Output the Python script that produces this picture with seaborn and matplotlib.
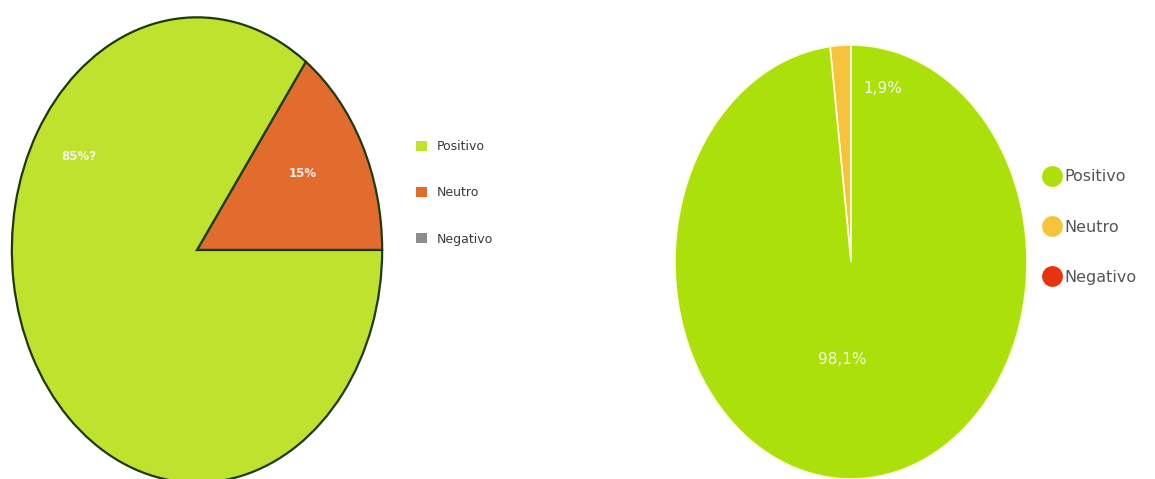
import matplotlib
matplotlib.use("Agg")
import matplotlib.pyplot as plt
import seaborn as sns
from matplotlib.patches import Patch
from matplotlib.lines import Line2D

sns.set_theme(style="white")
plt.rcParams['font.family'] = ['DejaVu Sans']

categories = ["Positivo", "Neutro", "Negativo"]
left_values = [85, 15, 0]
left_labels = ["85%?", "15%", ""]
right_values = [98.1, 1.9, 0]
right_labels = ["98,1%", "1,9%", ""]

left_colors = ["#bfe22e", "#e26c2e", "#8c8c8c"]
right_colors = ["#abe00a", "#f8c33c", "#e8330f"]

W, H = 1155, 479
fig = plt.figure(figsize=(W / 100, H / 100), dpi=100)
fig.patch.set_facecolor("white")

def axes_px(x0, y0, x1, y1):
    return fig.add_axes([x0 / W, 1 - y1 / H, (x1 - x0) / W, (y1 - y0) / H])

# ---- left pie (elliptical, dark outline) ----
axL = axes_px(10, 15, 384, 485)
vals = [left_values[1], left_values[0]]
cols = [left_colors[1], left_colors[0]]
axL.pie(vals, colors=cols, startangle=0, counterclock=True,
        wedgeprops=dict(edgecolor="#1d3a0c", linewidth=1.6))
axL.set_aspect("auto")
axL.set_xlim(-1.01, 1.01)
axL.set_ylim(-1.01, 1.01)
axL.axis("off")
axL.text(-0.64, 0.40, left_labels[0], color="#f4f4e8", fontsize=8.5,
         fontweight="bold", ha="center", va="center")
axL.text(0.57, 0.33, left_labels[1], color="#f4f0e8", fontsize=8.5,
         fontweight="bold", ha="center", va="center")

hL = [Patch(facecolor=c, edgecolor="none") for c in left_colors]
fig.legend(hL, categories, loc="center left",
           bbox_to_anchor=(405 / W, 1 - 193 / H), frameon=False,
           fontsize=9, handlelength=0.85, handleheight=0.85,
           handletextpad=0.8, labelspacing=2.65, labelcolor="#3a3a3a")

# ---- right pie (elliptical, white separator) ----
axR = axes_px(675, 45, 1027, 479)
vals = [right_values[1], right_values[0]]
cols = [right_colors[1], right_colors[0]]
axR.pie(vals, colors=cols, startangle=90, counterclock=True,
        wedgeprops=dict(edgecolor="#fffbe0", linewidth=1.2))
axR.set_aspect("auto")
axR.set_xlim(-1.0, 1.0)
axR.set_ylim(-1.0, 1.0)
axR.axis("off")
axR.text(0.18, 0.80, right_labels[1], color="#f4f8e4", fontsize=11,
         ha="center", va="center")
axR.text(-0.05, -0.45, right_labels[0], color="#f4f8e4", fontsize=11,
         ha="center", va="center")

hR = [Line2D([0], [0], marker="o", linestyle="none", markersize=15,
             markerfacecolor=c, markeredgecolor="none") for c in right_colors]
fig.legend(hR, categories, loc="center left",
           bbox_to_anchor=(1033 / W, 1 - 227 / H), frameon=False,
           fontsize=11.5, handlelength=1.0, handletextpad=0.25,
           labelspacing=2.2, labelcolor="#555555", borderpad=0.2)

fig.savefig("out.png", dpi=100, facecolor="white")
